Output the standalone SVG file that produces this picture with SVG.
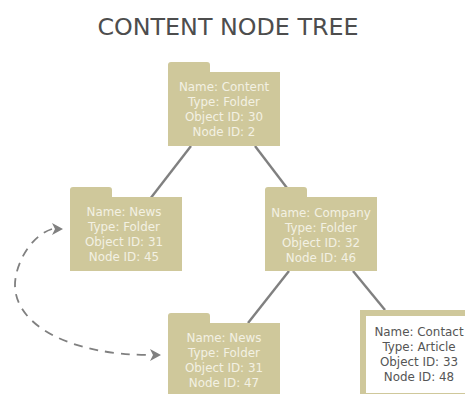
<svg xmlns="http://www.w3.org/2000/svg" xmlns:xlink="http://www.w3.org/1999/xlink" width="465" height="394" viewBox="0 0 465 394">
<style>
text{font-family:"DejaVu Sans","Liberation Sans",sans-serif;text-anchor:middle}
.t{font-size:23.8px;fill:#4d4d4d}
.l{font-size:11.9px;fill:#f3f1e3}
.d{font-size:11.9px;fill:#555}
.f{fill:#cfc89b}
.c{fill:none;stroke:#808080;stroke-width:2.4}
.da{fill:none;stroke:#808080;stroke-width:1.8;stroke-dasharray:9 7}
.h{fill:#808080}
</style>
<defs>
<path id="folder" class="f" d="M0 3Q0 0 3 0H39Q42 0 42 3V10H112V84H0Z"/>
</defs>
<text class="t" x="228" y="35">CONTENT NODE TREE</text>
<g id="connectors">
<path class="c" d="M191 146L150 199"/>
<path class="c" d="M255 146L287 188"/>
<path class="c" d="M289 271L248 323"/>
<path class="c" d="M353 271L385 310"/>
<path class="da" d="M52 229C30 236 15 265 15 285C15 325 70 355 150 355"/>
<path class="h" d="M63 229L52 223L55 229L52 235Z"/>
<path class="h" d="M161 355L150 349L153 355L150 361Z"/>
</g>
<g id="node-content"><use xlink:href="#folder" x="168" y="62"/>
<text class="l" x="224" y="91">Name: Content</text><text class="l" x="224" y="106">Type: Folder</text><text class="l" x="224" y="121">Object ID: 30</text><text class="l" x="224" y="136">Node ID: 2</text></g>
<g id="node-news-45"><use xlink:href="#folder" x="70" y="187"/>
<text class="l" x="124" y="216">Name: News</text><text class="l" x="124" y="231">Type: Folder</text><text class="l" x="124" y="246">Object ID: 31</text><text class="l" x="124" y="261">Node ID: 45</text></g>
<g id="node-company"><use xlink:href="#folder" x="265" y="187"/>
<text class="l" x="321" y="217">Name: Company</text><text class="l" x="321" y="232">Type: Folder</text><text class="l" x="321" y="247">Object ID: 32</text><text class="l" x="321" y="262">Node ID: 46</text></g>
<g id="node-news-47"><use xlink:href="#folder" x="168" y="313"/>
<text class="l" x="224" y="342">Name: News</text><text class="l" x="224" y="357">Type: Folder</text><text class="l" x="224" y="372">Object ID: 31</text><text class="l" x="224" y="387">Node ID: 47</text></g>
<g id="node-contact"><rect x="363" y="313" width="110" height="83" fill="#fff" stroke="#cfc89b" stroke-width="6"/>
<text class="d" x="419" y="336">Name: Contact</text><text class="d" x="419" y="351">Type: Article</text><text class="d" x="419" y="366">Object ID: 33</text><text class="d" x="419" y="381">Node ID: 48</text></g>
</svg>
